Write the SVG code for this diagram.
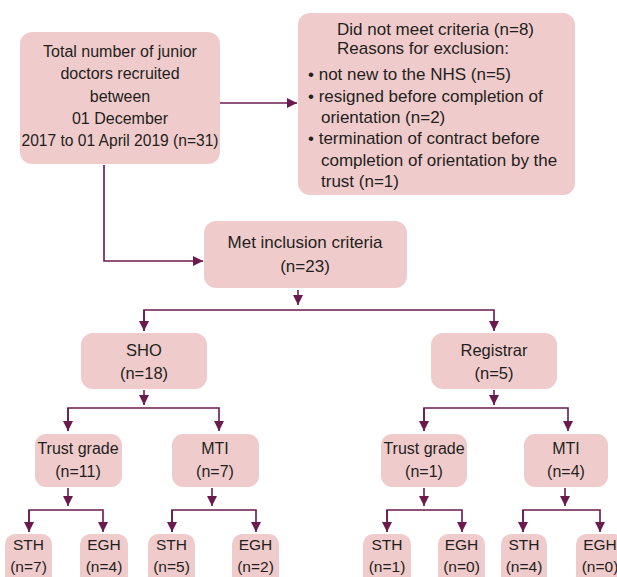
<svg xmlns="http://www.w3.org/2000/svg" width="617" height="577" viewBox="0 0 617 577">
<style>
.box{fill:#f0cbcc;stroke:none}
.t{font-family:"Liberation Sans",Arial,sans-serif;font-size:15.5px;fill:#231f20}
.c{text-anchor:middle}
.f16{font-size:16px}
.f165{font-size:16.5px}
.f17{font-size:17px}
.ln{fill:none;stroke:#6b1a4d;stroke-width:1.6}
</style>
<defs>
<marker id="ah" viewBox="0 0 10 10" refX="10" refY="5" markerWidth="10" markerHeight="10" markerUnits="userSpaceOnUse" orient="auto">
<path d="M0,0 L10,5 L0,10 Z" fill="#6b1a4d"/>
</marker>
</defs>
<rect width="617" height="577" fill="#ffffff"/>
<g id="connectors">
<path class="ln" d="M220,103 H297" marker-end="url(#ah)"/>
<path class="ln" d="M104,165 V261 H203" marker-end="url(#ah)"/>
<path class="ln" d="M298,290 V305" marker-end="url(#ah)"/>
<path class="ln" d="M144,331 V310 H494 V331" marker-end="url(#ah)"/>
<path class="ln" d="M144,310 V331" marker-end="url(#ah)"/>
<path class="ln" d="M144,390 V405" marker-end="url(#ah)"/>
<path class="ln" d="M68,431 V408 H219 V431" marker-end="url(#ah)"/>
<path class="ln" d="M68,408 V431" marker-end="url(#ah)"/>
<path class="ln" d="M494,390 V405" marker-end="url(#ah)"/>
<path class="ln" d="M424,431 V408 H568 V431" marker-end="url(#ah)"/>
<path class="ln" d="M424,408 V431" marker-end="url(#ah)"/>
<path class="ln" d="M68,488 V506" marker-end="url(#ah)"/>
<path class="ln" d="M29,532 V510 H103 V532" marker-end="url(#ah)"/>
<path class="ln" d="M29,510 V532" marker-end="url(#ah)"/>
<path class="ln" d="M212,488 V506" marker-end="url(#ah)"/>
<path class="ln" d="M172,532 V510 H256 V532" marker-end="url(#ah)"/>
<path class="ln" d="M172,510 V532" marker-end="url(#ah)"/>
<path class="ln" d="M424,488 V506" marker-end="url(#ah)"/>
<path class="ln" d="M387,532 V510 H462 V532" marker-end="url(#ah)"/>
<path class="ln" d="M387,510 V532" marker-end="url(#ah)"/>
<path class="ln" d="M565,488 V506" marker-end="url(#ah)"/>
<path class="ln" d="M523,532 V510 H600 V532" marker-end="url(#ah)"/>
<path class="ln" d="M523,510 V532" marker-end="url(#ah)"/>
</g>
<g id="total">
<rect class="box" x="20" y="32" width="200" height="132" rx="12"/>
<text class="t c f16" x="120" y="57">Total number of junior</text>
<text class="t c f16" x="120" y="79">doctors recruited</text>
<text class="t c f16" x="120" y="102">between</text>
<text class="t c f16" x="120" y="124">01 December</text>
<text class="t c f16" x="120" y="146" textLength="197" lengthAdjust="spacingAndGlyphs">2017 to 01 April 2019 (n=31)</text>
</g>
<g id="excluded">
<rect class="box" x="298" y="13" width="277" height="182" rx="12"/>
<text class="t f17" x="337" y="35">Did not meet criteria (n=8)</text>
<text class="t f17" x="337" y="54">Reasons for exclusion:</text>
<text class="t f17" x="308" y="80">• not new to the NHS (n=5)</text>
<text class="t f17" x="308" y="102">• resigned before completion of</text>
<text class="t f17" x="321" y="123">orientation (n=2)</text>
<text class="t f17" x="308" y="144">• termination of contract before</text>
<text class="t f17" x="321" y="166">completion of orientation by the</text>
<text class="t f17" x="321" y="187">trust (n=1)</text>
</g>
<g id="met">
<rect class="box" x="204" y="221" width="203" height="67" rx="12"/>
<text class="t c f17" x="305" y="248">Met inclusion criteria</text>
<text class="t c f17" x="305" y="272">(n=23)</text>
</g>
<g id="sho">
<rect class="box" x="81" y="333" width="126" height="56" rx="12"/>
<text class="t c f165" x="144" y="356">SHO</text>
<text class="t c f165" x="144" y="379">(n=18)</text>
</g>
<g id="registrar">
<rect class="box" x="431" y="333" width="126" height="56" rx="12"/>
<text class="t c f165" x="494" y="356">Registrar</text>
<text class="t c f165" x="494" y="379">(n=5)</text>
</g>
<g id="sho-trust">
<rect class="box" x="35" y="434" width="87" height="53" rx="11"/>
<text class="t c f16" x="78" y="454">Trust grade</text>
<text class="t c f16" x="78" y="477">(n=11)</text>
</g>
<g id="sho-mti">
<rect class="box" x="172" y="434" width="87" height="53" rx="11"/>
<text class="t c f16" x="215" y="454">MTI</text>
<text class="t c f16" x="215" y="477">(n=7)</text>
</g>
<g id="reg-trust">
<rect class="box" x="381" y="434" width="86" height="53" rx="11"/>
<text class="t c f16" x="424" y="454">Trust grade</text>
<text class="t c f16" x="424" y="477">(n=1)</text>
</g>
<g id="reg-mti">
<rect class="box" x="524" y="434" width="84" height="53" rx="11"/>
<text class="t c f16" x="566" y="454">MTI</text>
<text class="t c f16" x="566" y="477">(n=4)</text>
</g>
<g id="sth1">
<rect class="box" x="5" y="534" width="47" height="53" rx="10"/>
<text class="t c" x="28.5" y="550">STH</text>
<text class="t c" x="28.5" y="572">(n=7)</text>
</g>
<g id="egh1">
<rect class="box" x="80" y="534" width="48" height="53" rx="10"/>
<text class="t c" x="104" y="550">EGH</text>
<text class="t c" x="104" y="572">(n=4)</text>
</g>
<g id="sth2">
<rect class="box" x="148" y="534" width="47" height="53" rx="10"/>
<text class="t c" x="171.5" y="550">STH</text>
<text class="t c" x="171.5" y="572">(n=5)</text>
</g>
<g id="egh2">
<rect class="box" x="232" y="534" width="47" height="53" rx="10"/>
<text class="t c" x="255.5" y="550">EGH</text>
<text class="t c" x="255.5" y="572">(n=2)</text>
</g>
<g id="sth3">
<rect class="box" x="363" y="534" width="48" height="53" rx="10"/>
<text class="t c" x="387" y="550">STH</text>
<text class="t c" x="387" y="572">(n=1)</text>
</g>
<g id="egh3">
<rect class="box" x="438" y="534" width="47" height="53" rx="10"/>
<text class="t c" x="461.5" y="550">EGH</text>
<text class="t c" x="461.5" y="572">(n=0)</text>
</g>
<g id="sth4">
<rect class="box" x="501" y="534" width="46" height="53" rx="10"/>
<text class="t c" x="524" y="550">STH</text>
<text class="t c" x="524" y="572">(n=4)</text>
</g>
<g id="egh4">
<rect class="box" x="576" y="534" width="48" height="53" rx="10"/>
<text class="t c" x="600" y="550">EGH</text>
<text class="t c" x="600" y="572">(n=0)</text>
</g>
</svg>
